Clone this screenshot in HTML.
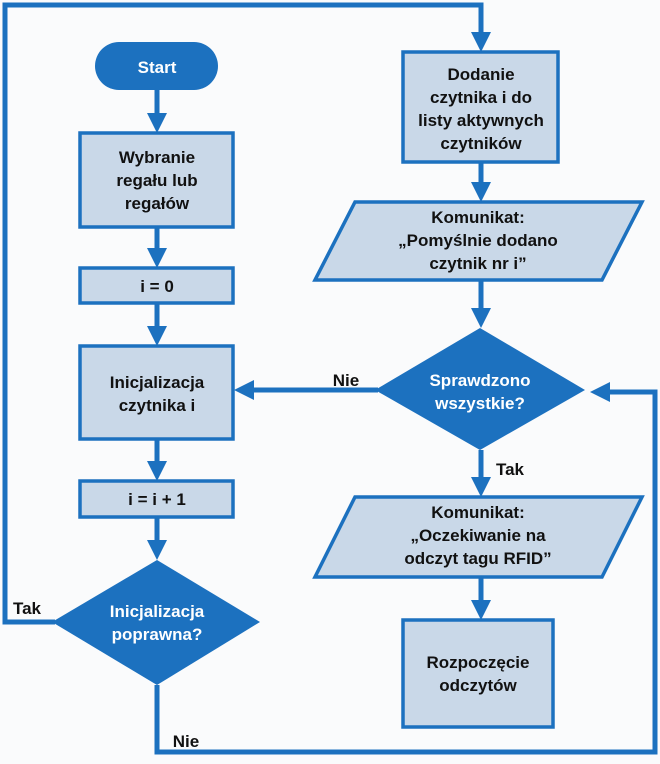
<!DOCTYPE html>
<html><head><meta charset="utf-8"><style>
html,body{margin:0;padding:0;background:#fafbfc;}
svg{display:block;}
text{font-family:"Liberation Sans",sans-serif;font-weight:bold;font-size:17px;text-anchor:middle;}
.b{fill:#c9d8e8;stroke:#1c71bf;stroke-width:3.5;}
.l{stroke:#1c71bf;stroke-width:5;fill:none;}
.d{fill:#1c71bf;}
.w{fill:#fff;}
.k{fill:#111;}
</style></head><body>
<svg width="660" height="764" viewBox="0 0 660 764">
<defs><marker id="a" markerWidth="4" markerHeight="4" refX="3" refY="2" orient="auto" markerUnits="strokeWidth"><path d="M0,0 L4,2 L0,4 z" fill="#1c71bf"/></marker></defs>
<!-- connectors -->
<path class="l" d="M157,90 V128" marker-end="url(#a)"/>
<path class="l" d="M157,227 V263" marker-end="url(#a)"/>
<path class="l" d="M157,303 V341" marker-end="url(#a)"/>
<path class="l" d="M157,439 V476" marker-end="url(#a)"/>
<path class="l" d="M157,517 V555" marker-end="url(#a)"/>
<path class="l" d="M55,622 H5 V5 H481 V47" marker-end="url(#a)"/>
<path class="l" d="M157,685 V752 H655 V392 H595" marker-end="url(#a)"/>
<path class="l" d="M481,162 V197" marker-end="url(#a)"/>
<path class="l" d="M481,280 V323" marker-end="url(#a)"/>
<path class="l" d="M378,390 H239" marker-end="url(#a)"/>
<path class="l" d="M481,450 V492" marker-end="url(#a)"/>
<path class="l" d="M481,577 V615" marker-end="url(#a)"/>
<!-- shapes -->
<rect class="d" x="95" y="42" width="123" height="48" rx="24"/>
<text class="w" x="157" y="73">Start</text>
<rect class="b" x="80" y="133" width="153" height="94"/>
<text class="k" x="157" y="163">Wybranie</text>
<text class="k" x="157" y="186">regału lub</text>
<text class="k" x="157" y="209">regałów</text>
<rect class="b" x="80" y="268" width="153" height="35"/>
<text class="k" x="157" y="292">i = 0</text>
<rect class="b" x="80" y="346" width="153" height="93"/>
<text class="k" x="157" y="388">Inicjalizacja</text>
<text class="k" x="157" y="411">czytnika i</text>
<rect class="b" x="80" y="481" width="153" height="36"/>
<text class="k" x="157" y="505">i = i + 1</text>
<path class="d" d="M157,560 L260,622 L157,685 L52,622 z"/>
<text class="w" x="157" y="617">Inicjalizacja</text>
<text class="w" x="157" y="640">poprawna?</text>
<text class="k" x="27" y="614" style="text-anchor:middle">Tak</text>
<text class="k" x="186" y="747">Nie</text>
<rect class="b" x="403" y="52" width="155" height="110"/>
<text class="k" x="481" y="80">Dodanie</text>
<text class="k" x="481" y="103">czytnika i do</text>
<text class="k" x="481" y="126">listy aktywnych</text>
<text class="k" x="481" y="149">czytników</text>
<path class="b" d="M355,202 L642,202 L602,280 L315,280 z"/>
<text class="k" x="478" y="223">Komunikat:</text>
<text class="k" x="478" y="246">„Pomyślnie dodano</text>
<text class="k" x="478" y="269">czytnik nr i”</text>
<path class="d" d="M480,328 L585,390 L480,450 L375,390 z"/>
<text class="w" x="480" y="386">Sprawdzono</text>
<text class="w" x="480" y="409">wszystkie?</text>
<text class="k" x="346" y="386">Nie</text>
<text class="k" x="510" y="475">Tak</text>
<path class="b" d="M355,497 L642,497 L602,577 L315,577 z"/>
<text class="k" x="478" y="518">Komunikat:</text>
<text class="k" x="478" y="541">„Oczekiwanie na</text>
<text class="k" x="478" y="564">odczyt tagu RFID”</text>
<rect class="b" x="403" y="620" width="150" height="107"/>
<text class="k" x="478" y="668">Rozpoczęcie</text>
<text class="k" x="478" y="691">odczytów</text>
</svg>
</body></html>
